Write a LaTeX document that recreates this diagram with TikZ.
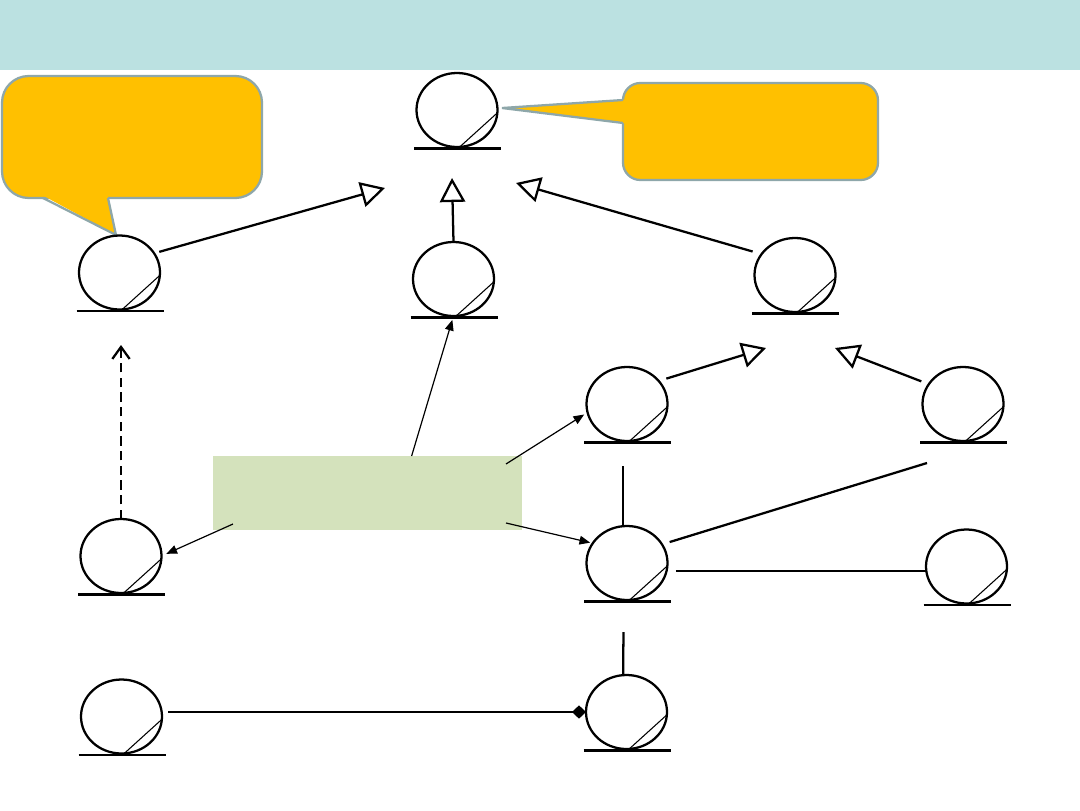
\documentclass[tikz,border=0pt]{standalone}
\usepackage{tikz}
\usetikzlibrary{arrows.meta,shapes.geometric}
\definecolor{ink}{HTML}{000000}
\definecolor{band}{HTML}{BBE1E1}
\definecolor{amber}{HTML}{FFC000}
\definecolor{rim}{HTML}{8EA7AA}
\definecolor{sage}{HTML}{D4E2BC}

\begin{document}
\begin{tikzpicture}[x=0.75pt,y=-0.75pt,
  entity/.style={ellipse,draw=ink,line width=1.7pt,minimum width=60.75pt,minimum height=55.5pt,inner sep=0pt,outer sep=0pt},
  uline/.style={ink,line width=2.2pt},
  gen/.style={ink,line width=1.7pt,-{Triangle[open,length=18pt,width=19pt]}},
  dep/.style={ink,line width=1.7pt,dash pattern=on 7pt off 4pt,-{Straight Barb[length=9pt,width=13pt]}},
  use/.style={ink,line width=0.9pt,-{Triangle[length=8pt,width=6.5pt]}},
  assoc/.style={ink,line width=1.7pt},
  aggr/.style={ink,line width=1.7pt,-{Diamond[length=10.5pt,width=10pt]}},
  bubble/.style={draw=rim,fill=amber,line width=1.7pt,inner sep=0pt,outer sep=0pt},
  panel/.style={fill=sage,inner sep=0pt,outer sep=0pt,minimum width=231.75pt,minimum height=55.5pt}]
  \useasboundingbox (0,0) rectangle (1080,810);
  \fill[band] (0,0) rectangle (1080,70);

  % callouts
  \node[bubble,rounded corners=20pt,minimum width=195pt,minimum height=91.5pt] (noteL) at (132,137) {};
  \fill[amber] (42,195) -- (107.4,195) -- (116,235) -- cycle;
  \draw[rim,line width=1.7pt] (43,198) -- (116,235) -- (108,198);
  \node[bubble,rounded corners=13pt,minimum width=191.25pt,minimum height=72.75pt] (noteR) at (750.5,131.5) {};
  \fill[amber] (626,99.5) -- (502,108) -- (626,123.5) -- cycle;
  \draw[rim,line width=1.7pt] (623,100) -- (502,108) -- (623,123);

  \foreach \n/\x/\y in {base/457/110, left/119.5/272.5, mid/453.5/279, right/795/275,
      subA/627/404, subB/963/404, impl/121/556, hub/627/563, peer/966.5/566.5,
      part/121.5/716.5, whole/626.5/712}{
    \node[entity] (\n) at (\x,\y) {};
    \draw[uline] (\x-43,\y+38.5) -- (\x+44,\y+38.5);
    \draw[ink,line width=0.8pt] ([xshift=2pt]\n.south) -- (\n.-4);
  }

  % generalisations
  \coordinate (tipL) at (385,188);
  \coordinate (tipM) at (452,178);
  \coordinate (tipR) at (516,183);
  \coordinate (tipA) at (766,348);
  \coordinate (tipB) at (835,348);
  \coordinate (tipI) at (121,345);
  \draw[gen,shorten <=4pt] (left.29) -- (tipL);
  \draw[gen] (mid.north) -- (tipM);
  \draw[gen,shorten <=7pt] (right.148) -- (tipR);
  \draw[gen,shorten <=6pt] (subA.36) -- (tipA);
  \draw[gen,shorten <=6pt] (subB.150) -- (tipB);
  \draw[dep] (impl.north) -- (tipI);

  \node[panel] (ctl) at (367.5,493) {};
  \draw[use,shorten >=3pt] (ctl.40) -- (mid.south);
  \draw[use,shorten >=3pt] ([shift={(-16,8)}]ctl.north east) -- (subA.192);
  \draw[use,shorten >=2pt] ([shift={(-16,-7)}]ctl.south east) -- (hub.150);
  \draw[use,shorten >=4pt] ([shift={(20,-6)}]ctl.south west) -- (impl.east);

  % associations
  \draw[assoc,shorten <=19pt] ([xshift=-3pt]subA.south) -- ([xshift=-3pt]hub.north);
  \draw[assoc,shorten <=24pt] ([xshift=-2.5pt]hub.south) -- ([xshift=-2.5pt]whole.north);
  \draw[assoc,shorten <=6pt] (hub.28) -- ([shift={(-36,22)}]subB.south);
  \draw[assoc] ([xshift=7pt]hub.-11) -- (hub.-11 -| peer.west);
  \draw[aggr,shorten <=4.5pt] (part.east |- whole.west) -- (whole.west);
\end{tikzpicture}
\end{document}
